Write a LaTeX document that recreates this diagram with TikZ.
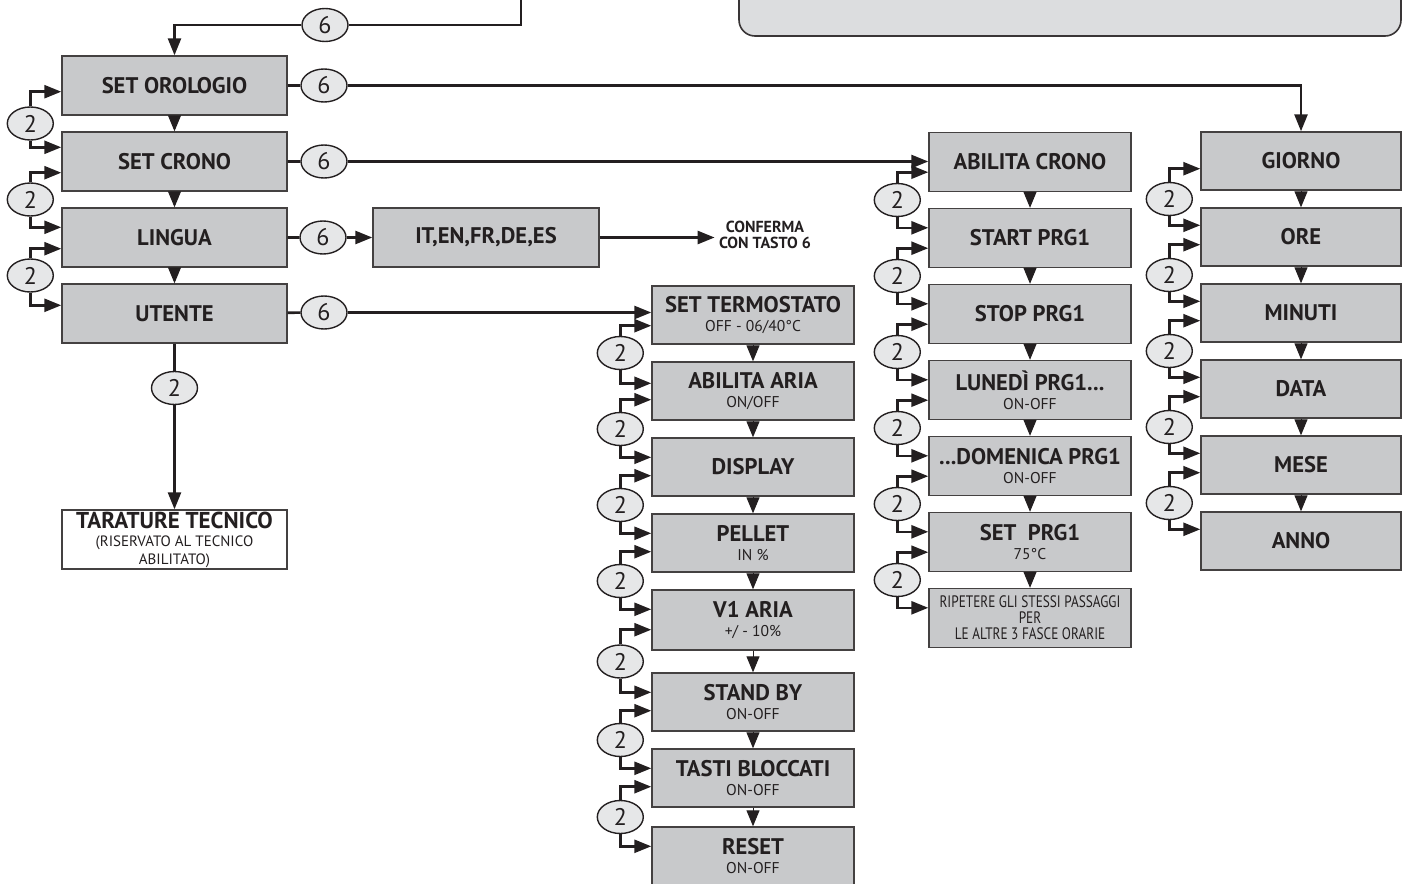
\documentclass[tikz,border=0pt]{standalone}
\usepackage{fontspec}
\setmainfont{PT Sans}
\newfontfamily\narrowfont{PT Sans}[FakeStretch=0.8]
\usepackage{xcolor}
\usepackage{tikz}
\usetikzlibrary{shapes.geometric, arrows.meta, positioning, calc}

\definecolor{boxfill}{HTML}{C8C9CB}
\definecolor{keyfill}{HTML}{E6E7E8}
\definecolor{panelfill}{HTML}{DCDDDF}
\definecolor{ink}{HTML}{231F20}
\newcommand{\smalltxt}[1]{{\mdseries\fontsize{7.8}{8}\selectfont #1}}

\begin{document}
\begin{tikzpicture}[x=0.5pt, y=-0.5pt, node distance=7.8pt, >={Triangle[length=8.5pt,width=6.5pt]}]
    \tikzset{
        menu/.style={rectangle, draw=ink!85, line width=0.7pt, fill=boxfill, minimum width=101pt, minimum height=29pt, inner sep=1pt, align=center, text=ink, font=\bfseries\fontsize{11.3}{9.5}\selectfont},
        wide/.style={menu, minimum width=112.5pt, minimum height=29.5pt},
        key/.style={ellipse, draw=ink, line width=0.7pt, fill=keyfill, minimum width=23pt, minimum height=16.5pt, inner sep=0pt, text=ink, font=\fontsize{12}{12}\selectfont},
        line/.style={draw=ink, line width=1.3pt, ->},
        plain/.style={draw=ink, line width=1.3pt},
        tri/.style={draw=ink, line width=0.5pt, -{Triangle[length=8pt,width=6.5pt]}}
    }
    \useasboundingbox (0,0) rectangle (1402,883);

    % panel at the top
    \draw [draw=ink!90, line width=0.8pt, fill=panelfill, rounded corners=8pt] (739,-30) rectangle (1401,36);

    % main menu
    \node (orologio) [wide] at (174.5,85.5) {SET OROLOGIO};
    \node (crono) [wide, below=of orologio] {SET CRONO};
    \node (lingua) [wide, below=of crono] {LINGUA};
    \node (utente) [wide, below=of lingua] {UTENTE};
    \node (tarature) [wide, fill=white, inner sep=0pt, font=\bfseries\fontsize{11.5}{9}\selectfont] at (174.5,539.5) {TARATURE TECNICO\\ {\mdseries\fontsize{7.5}{8}\selectfont (RISERVATO AL TECNICO}\\ {\mdseries\fontsize{7.5}{8}\selectfont ABILITATO)}};
    \node (lingue) [menu, minimum width=113pt, minimum height=29.5pt] at (486,237.5) {IT,EN,FR,DE,ES};
    \node (conferma) [align=center, inner sep=2pt, text=ink, font=\bfseries\fontsize{8}{8}\selectfont] at (765,235) {CONFERMA\\CON TASTO 6};

    % utente
    \node (termo) [menu] at (753,315) {SET TERMOSTATO\\ \smalltxt{OFF - 06/40°C}};
    \node (aria) [menu, below=8.3pt of termo] {ABILITA ARIA\\ \smalltxt{ON/OFF}};
    \node (display) [menu, below=8.3pt of aria] {DISPLAY};
    \node (pellet) [menu, below=8.3pt of display] {PELLET\\ \smalltxt{IN \%}};
    \node (vuno) [menu, minimum height=30pt, below=8.3pt of pellet] {V1 ARIA\\ \smalltxt{+/ - 10\%}};
    \node (standby) [menu, below=10.8pt of vuno] {STAND BY\\ \smalltxt{ON-OFF}};
    \node (tasti) [menu, below=8.3pt of standby] {TASTI BLOCCATI\\ \smalltxt{ON-OFF}};
    \node (reset) [menu, below=9.3pt of tasti] {RESET\\ \smalltxt{ON-OFF}};

    % crono
    \node (abcrono) [menu, minimum height=29.5pt] at (1030,162) {ABILITA CRONO};
    \node (start) [menu, minimum height=29.5pt, below=of abcrono] {START PRG1};
    \node (stop) [menu, minimum height=29.5pt, below=of start] {STOP PRG1};
    \node (lunedi) [menu, minimum height=29.5pt, below=of stop] {LUNEDÌ PRG1...\\ \smalltxt{ON-OFF}};
    \node (domenica) [menu, minimum height=29.5pt, below=of lunedi] {...DOMENICA PRG1\\ \smalltxt{ON-OFF}};
    \node (setprg) [menu, minimum height=29.5pt, below=of domenica] {SET\ \ PRG1\\ \smalltxt{75°C}};
    \node (ripetere) [menu, minimum height=29.5pt, below=of setprg, font=\narrowfont\fontsize{8.3}{8}\selectfont] {RIPETERE GLI STESSI PASSAGGI\\PER\\LE ALTRE 3 FASCE ORARIE};

    % orologio
    \node (giorno) [menu, minimum width=100pt] at (1301,161) {GIORNO};
    \node (ore) [menu, minimum width=100pt, below=8.3pt of giorno] {ORE};
    \node (minuti) [menu, minimum width=100pt, below=8.3pt of ore] {MINUTI};
    \node (data) [menu, minimum width=100pt, below=8.3pt of minuti] {DATA};
    \node (mese) [menu, minimum width=100pt, below=8.3pt of data] {MESE};
    \node (anno) [menu, minimum width=100pt, below=8.3pt of mese] {ANNO};

    % key 6
    \coordinate (ingresso) at (521,0);
    \node (sei0) [key] at (325,25) {6};
    \node (sei1) [key] at (324,85.5) {6};
    \node (sei2) [key] at (324,161.5) {6};
    \node (sei3) [key] at (323,237.5) {6};
    \node (sei4) [key] at (324,312.5) {6};
    \node (due0) [key] at (174.5,388) {2};

    \path [plain] (ingresso) |- (sei0);
    \path [line] (sei0) -| (orologio);
    \path [plain] (orologio) -- (sei1);
    \path [line] (sei1) -| (giorno);
    \path [plain] (crono) -- (sei2);
    \path [line] (sei2) -- (sei2 -| abcrono.west);
    \path [plain] (lingua) -- (sei3);
    \path [line] (sei3) -- (lingue);
    \path [line] (lingue) -- (lingue -| conferma.west);
    \path [plain] (utente) -- (sei4);
    \path [line] (sei4) -- (sei4 -| termo.west);
    \path [plain] (utente) -- (due0);
    \path [line] (due0) -- (tarature);

    % key 2, main menu
    \node (dueA1) [key] at ($(orologio.south west)!.5!(crono.north west)+(-31,0)$) {2};
    \path [line] (dueA1) |- ([yshift=12pt]orologio.south west);
    \path [line] (dueA1) |- ([yshift=-8pt]crono.north west);
    \node (dueA2) [key] at ($(crono.south west)!.5!(lingua.north west)+(-31,0)$) {2};
    \path [line] (dueA2) |- ([yshift=9.5pt]crono.south west);
    \path [line] (dueA2) |- ([yshift=-10pt]lingua.north west);
    \node (dueA3) [key] at ($(lingua.south west)!.5!(utente.north west)+(-31,0)$) {2};
    \path [line] (dueA3) |- ([yshift=9.5pt]lingua.south west);
    \path [line] (dueA3) |- ([yshift=-11pt]utente.north west);

    % key 2, utente
    \node (dueB1) [key] at ($(termo.south west)!.5!(aria.north west)+(-31,0)$) {2};
    \path [line] (dueB1) |- ([yshift=9.5pt]termo.south west);
    \path [line] (dueB1) |- ([yshift=-11pt]aria.north west);
    \node (dueB2) [key] at ($(aria.south west)!.5!(display.north west)+(-31,0)$) {2};
    \path [line] (dueB2) |- ([yshift=10.5pt]aria.south west);
    \path [line] (dueB2) |- ([yshift=-10pt]display.north west);
    \node (dueB3) [key] at ($(display.south west)!.5!(pellet.north west)+(-31,0)$) {2};
    \path [line] (dueB3) |- ([yshift=10.5pt]display.south west);
    \path [line] (dueB3) |- ([yshift=-10pt]pellet.north west);
    \node (dueB4) [key] at ($(pellet.south west)!.5!(vuno.north west)+(-31,0)$) {2};
    \path [line] (dueB4) |- ([yshift=10.5pt]pellet.south west);
    \path [line] (dueB4) |- ([yshift=-10pt]vuno.north west);
    \node (dueB5) [key] at ($(vuno.south west)!.5!(standby.north west)+(-31,0)$) {2};
    \path [line] (dueB5) |- ([yshift=10.5pt]vuno.south west);
    \path [line] (dueB5) |- ([yshift=-10pt]standby.north west);
    \node (dueB6) [key] at ($(standby.south west)!.5!(tasti.north west)+(-31,0)$) {2};
    \path [line] (dueB6) |- ([yshift=10.5pt]standby.south west);
    \path [line] (dueB6) |- ([yshift=-10pt]tasti.north west);
    \node (dueB7) [key] at ($(tasti.south west)!.5!(reset.north west)+(-31,0)$) {2};
    \path [line] (dueB7) |- ([yshift=10.5pt]tasti.south west);
    \path [line] (dueB7) |- ([yshift=-10pt]reset.north west);

    % key 2, crono
    \node (dueC1) [key] at ($(abcrono.south west)!.5!(start.north west)+(-31,0)$) {2};
    \path [line] (dueC1) |- ([yshift=10pt]abcrono.south west);
    \path [line] (dueC1) |- ([yshift=-10pt]start.north west);
    \node (dueC2) [key] at ($(start.south west)!.5!(stop.north west)+(-31,0)$) {2};
    \path [line] (dueC2) |- ([yshift=10pt]start.south west);
    \path [line] (dueC2) |- ([yshift=-10pt]stop.north west);
    \node (dueC3) [key] at ($(stop.south west)!.5!(lunedi.north west)+(-31,0)$) {2};
    \path [line] (dueC3) |- ([yshift=10pt]stop.south west);
    \path [line] (dueC3) |- ([yshift=-10pt]lunedi.north west);
    \node (dueC4) [key] at ($(lunedi.south west)!.5!(domenica.north west)+(-31,0)$) {2};
    \path [line] (dueC4) |- ([yshift=10pt]lunedi.south west);
    \path [line] (dueC4) |- ([yshift=-10pt]domenica.north west);
    \node (dueC5) [key] at ($(domenica.south west)!.5!(setprg.north west)+(-31,0)$) {2};
    \path [line] (dueC5) |- ([yshift=10pt]domenica.south west);
    \path [line] (dueC5) |- ([yshift=-10pt]setprg.north west);
    \node (dueC6) [key] at ($(setprg.south west)!.5!(ripetere.north west)+(-31,0)$) {2};
    \path [line] (dueC6) |- ([yshift=10pt]setprg.south west);
    \path [line] (dueC6) |- ([yshift=-10pt]ripetere.north west);

    % key 2, orologio
    \node (dueD1) [key] at ($(giorno.south west)!.5!(ore.north west)+(-31,0)$) {2};
    \path [line] (dueD1) |- ([yshift=11pt]giorno.south west);
    \path [line] (dueD1) |- ([yshift=-9pt]ore.north west);
    \node (dueD2) [key] at ($(ore.south west)!.5!(minuti.north west)+(-31,0)$) {2};
    \path [line] (dueD2) |- ([yshift=11pt]ore.south west);
    \path [line] (dueD2) |- ([yshift=-9pt]minuti.north west);
    \node (dueD3) [key] at ($(minuti.south west)!.5!(data.north west)+(-31,0)$) {2};
    \path [line] (dueD3) |- ([yshift=11pt]minuti.south west);
    \path [line] (dueD3) |- ([yshift=-9pt]data.north west);
    \node (dueD4) [key] at ($(data.south west)!.5!(mese.north west)+(-31,0)$) {2};
    \path [line] (dueD4) |- ([yshift=11pt]data.south west);
    \path [line] (dueD4) |- ([yshift=-9pt]mese.north west);
    \node (dueD5) [key] at ($(mese.south west)!.5!(anno.north west)+(-31,0)$) {2};
    \path [line] (dueD5) |- ([yshift=11pt]mese.south west);
    \path [line] (dueD5) |- ([yshift=-9pt]anno.north west);

    % next item
    \path [tri] (orologio) -- (crono);
    \path [tri] (crono) -- (lingua);
    \path [tri] (lingua) -- (utente);
    \path [tri] (termo) -- (aria);
    \path [tri] (aria) -- (display);
    \path [tri] (display) -- (pellet);
    \path [tri] (pellet) -- (vuno);
    \path [tri] (vuno) -- (standby);
    \path [tri] (standby) -- (tasti);
    \path [tri] (tasti) -- (reset);
    \path [tri] (abcrono) -- (start);
    \path [tri] (start) -- (stop);
    \path [tri] (stop) -- (lunedi);
    \path [tri] (lunedi) -- (domenica);
    \path [tri] (domenica) -- (setprg);
    \path [tri] (setprg) -- (ripetere);
    \path [tri] (giorno) -- (ore);
    \path [tri] (ore) -- (minuti);
    \path [tri] (minuti) -- (data);
    \path [tri] (data) -- (mese);
    \path [tri] (mese) -- (anno);

\end{tikzpicture}
\end{document}
